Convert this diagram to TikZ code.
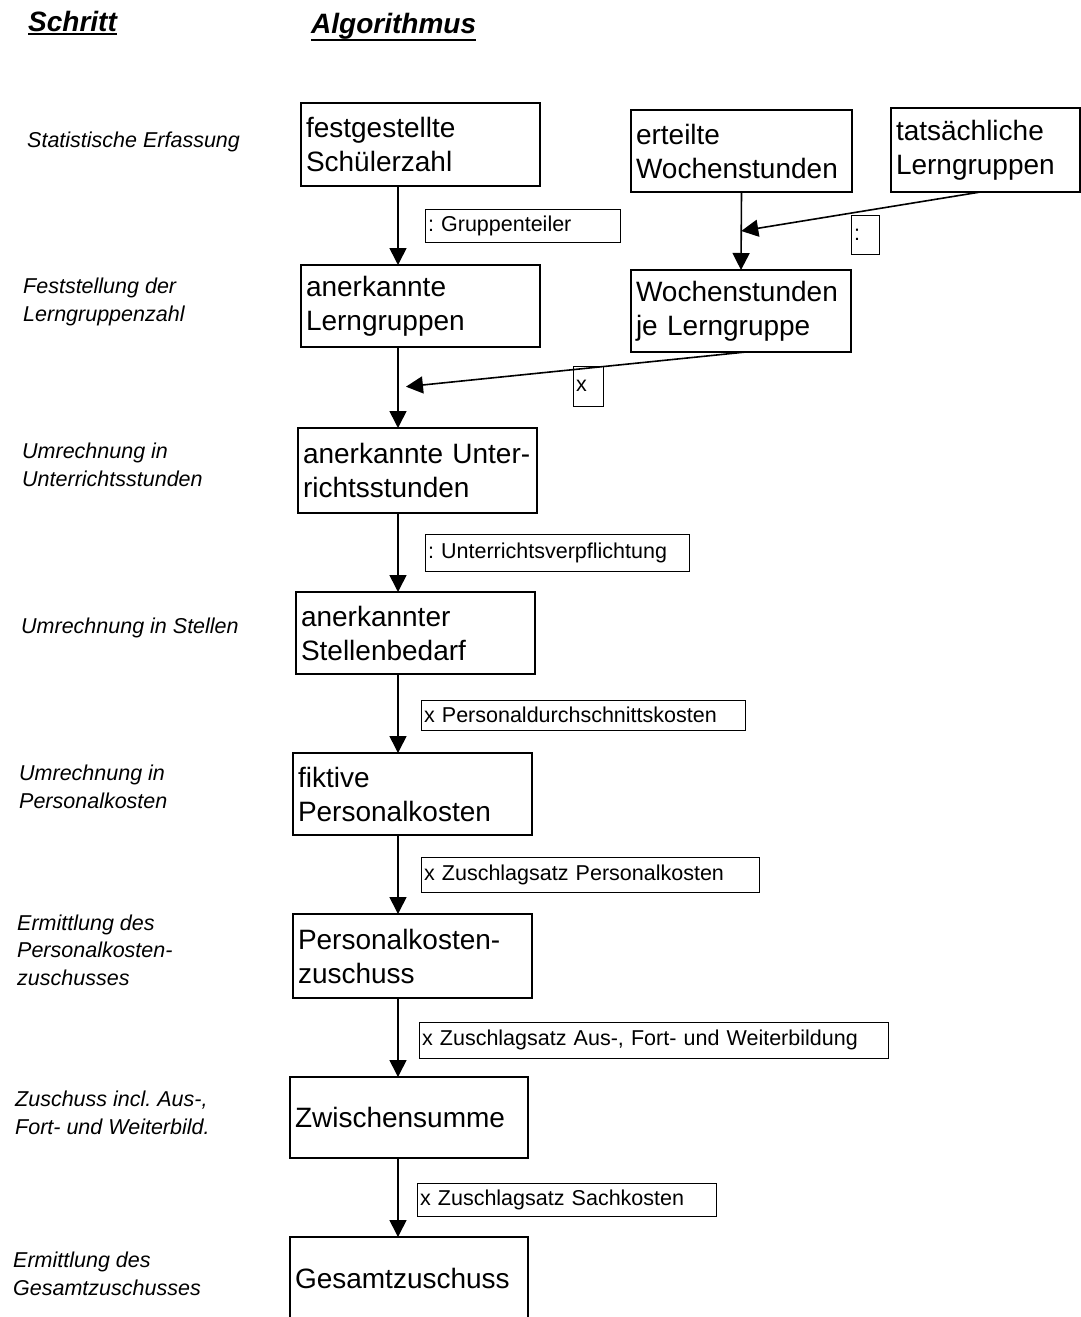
\documentclass[tikz,border=0pt]{standalone}
\usepackage{fontspec}
\setmainfont{Liberation Sans}
\usetikzlibrary{arrows.meta,calc}
\frenchspacing

\tikzset{
	kasten/.style={draw, line width=1.2pt, anchor=north west, outer sep=0pt,
		inner xsep=5pt, inner ysep=0pt, align=left, text width=229pt,
		minimum height=82pt, font=\fontsize{28}{34}\selectfont},
	faktor/.style={draw, line width=0.8pt, anchor=north west, outer sep=0pt,
		inner xsep=3pt, inner ysep=0pt, align=left,
		font=\fontsize{21.5}{26}\selectfont},
	schritt/.style={anchor=west, inner sep=0pt, align=left,
		font=\fontsize{21.5}{27.5}\selectfont\itshape},
	kopf/.style={anchor=base west, inner sep=0pt,
		font=\fontsize{28}{34}\selectfont\bfseries\itshape},
	pfeil/.style={line width=1.6pt, -{Triangle[width=17pt,length=17pt]}}
}

\begin{document}
\begin{tikzpicture}[x=1pt,y=-1pt]
	\useasboundingbox (0,0) rectangle (1081,1317);
	% Kopfzeile
	\node[kopf] (kschritt) at (28,31) {Schritt};
	\node[kopf] (kalgo) at (311,33) {Algorithmus};
	\draw[line width=2.5pt] ([yshift=-3pt]kschritt.base west) -- ([yshift=-3pt]kschritt.base east);
	\draw[line width=2.5pt] ([yshift=-7pt]kalgo.base west) -- ([yshift=-7pt]kalgo.base east);
	% Schritte links
	\node[schritt] (s1) at (27,142) {Statistische Erfassung};
	\node[schritt] (s2) at (23,302) {Feststellung der\\Lerngruppenzahl};
	\node[schritt] (s3) at (22,465) {Umrechnung in\\Unterrichtsstunden};
	\node[schritt] (s4) at (21,628) {Umrechnung in Stellen};
	\node[schritt] (s5) at (19,787) {Umrechnung in\\Personalkosten};
	\node[schritt] (s6) at (17,950) {Ermittlung des\\Personalkosten-\\zuschusses};
	\node[schritt] (s7) at (15,1113) {Zuschuss incl. Aus-,\\Fort- und Weiterbild.};
	\node[schritt] (s8) at (13,1274) {Ermittlung des\\Gesamtzuschusses};
	% Algorithmus
	\node[kasten, minimum height=83pt] (fest) at (301,103) {festgestellte\\Schülerzahl};
	\node[kasten, text width=211pt] (ert) at (631,110) {erteilte\\Wochenstunden};
	\node[kasten, text width=179pt, minimum height=84pt] (tats) at (891,108) {tatsächliche\\Lerngruppen};
	\node[kasten] (anlg) at (301,265) {anerkannte\\Lerngruppen};
	\node[kasten, text width=210pt] (wjl) at (631,270) {Wochenstunden\\je Lerngruppe};
	\node[kasten, minimum height=85pt] (aust) at (298,428) {anerkannte Unter-\\richtsstunden};
	\node[kasten] (stb) at (296,592) {anerkannter\\Stellenbedarf};
	\node[kasten] (fpk) at (293,753) {fiktive\\Personalkosten};
	\node[kasten, minimum height=84pt] (pkz) at (293,914) {Personalkosten-\\zuschuss};
	\node[kasten, text width=228pt, minimum height=81pt] (zws) at (290,1077) {Zwischensumme};
	\node[kasten, text width=228pt] (gz) at (290,1237) {Gesamtzuschuss};
	% Faktoren
	\node[faktor, text width=189pt, minimum height=33pt] (grt) at (425,209) {: Gruppenteiler};
	\node[faktor, text width=22pt, minimum height=39pt] (teil) at (851,215) {:};
	\node[faktor, text width=24pt, minimum height=40pt] (mal) at (573,366) {x};
	\node[faktor, text width=258pt, minimum height=37pt] (uvp) at (425,534) {: Unterrichtsverpflichtung};
	\node[faktor, text width=318pt, minimum height=30pt] (pdk) at (421,700) {x Personaldurchschnittskosten};
	\node[faktor, text width=332pt, minimum height=35pt] (zpk) at (421,857) {x Zuschlagsatz Personalkosten};
	\node[faktor, text width=463pt, minimum height=36pt] (zafw) at (419,1022) {x Zuschlagsatz Aus-, Fort- und Weiterbildung};
	\node[faktor, text width=293pt, minimum height=33pt] (zsk) at (417,1183) {x Zuschlagsatz Sachkosten};
	% Pfeile
	\coordinate (achse) at (398,0);
	\coordinate (mitte1) at ($(ert.south)!0.5!(wjl.north)$);
	\coordinate (mitte2) at ($(anlg.south -| achse)!0.5!(aust.north -| achse)$);
	\draw[pfeil] (fest.south -| achse) -- (anlg.north -| achse);
	\draw[pfeil] (ert.south) -- (wjl.north);
	\draw[pfeil] ([xshift=-5pt]tats.south) -- (mitte1);
	\draw[pfeil, shorten >=8pt] ([xshift=5pt]wjl.south) -- (mitte2);
	\draw[pfeil] (anlg.south -| achse) -- (aust.north -| achse);
	\draw[pfeil] (aust.south -| achse) -- (stb.north -| achse);
	\draw[pfeil] (stb.south -| achse) -- (fpk.north -| achse);
	\draw[pfeil] (fpk.south -| achse) -- (pkz.north -| achse);
	\draw[pfeil] (pkz.south -| achse) -- (zws.north -| achse);
	\draw[pfeil] (zws.south -| achse) -- (gz.north -| achse);
\end{tikzpicture}
\end{document}
